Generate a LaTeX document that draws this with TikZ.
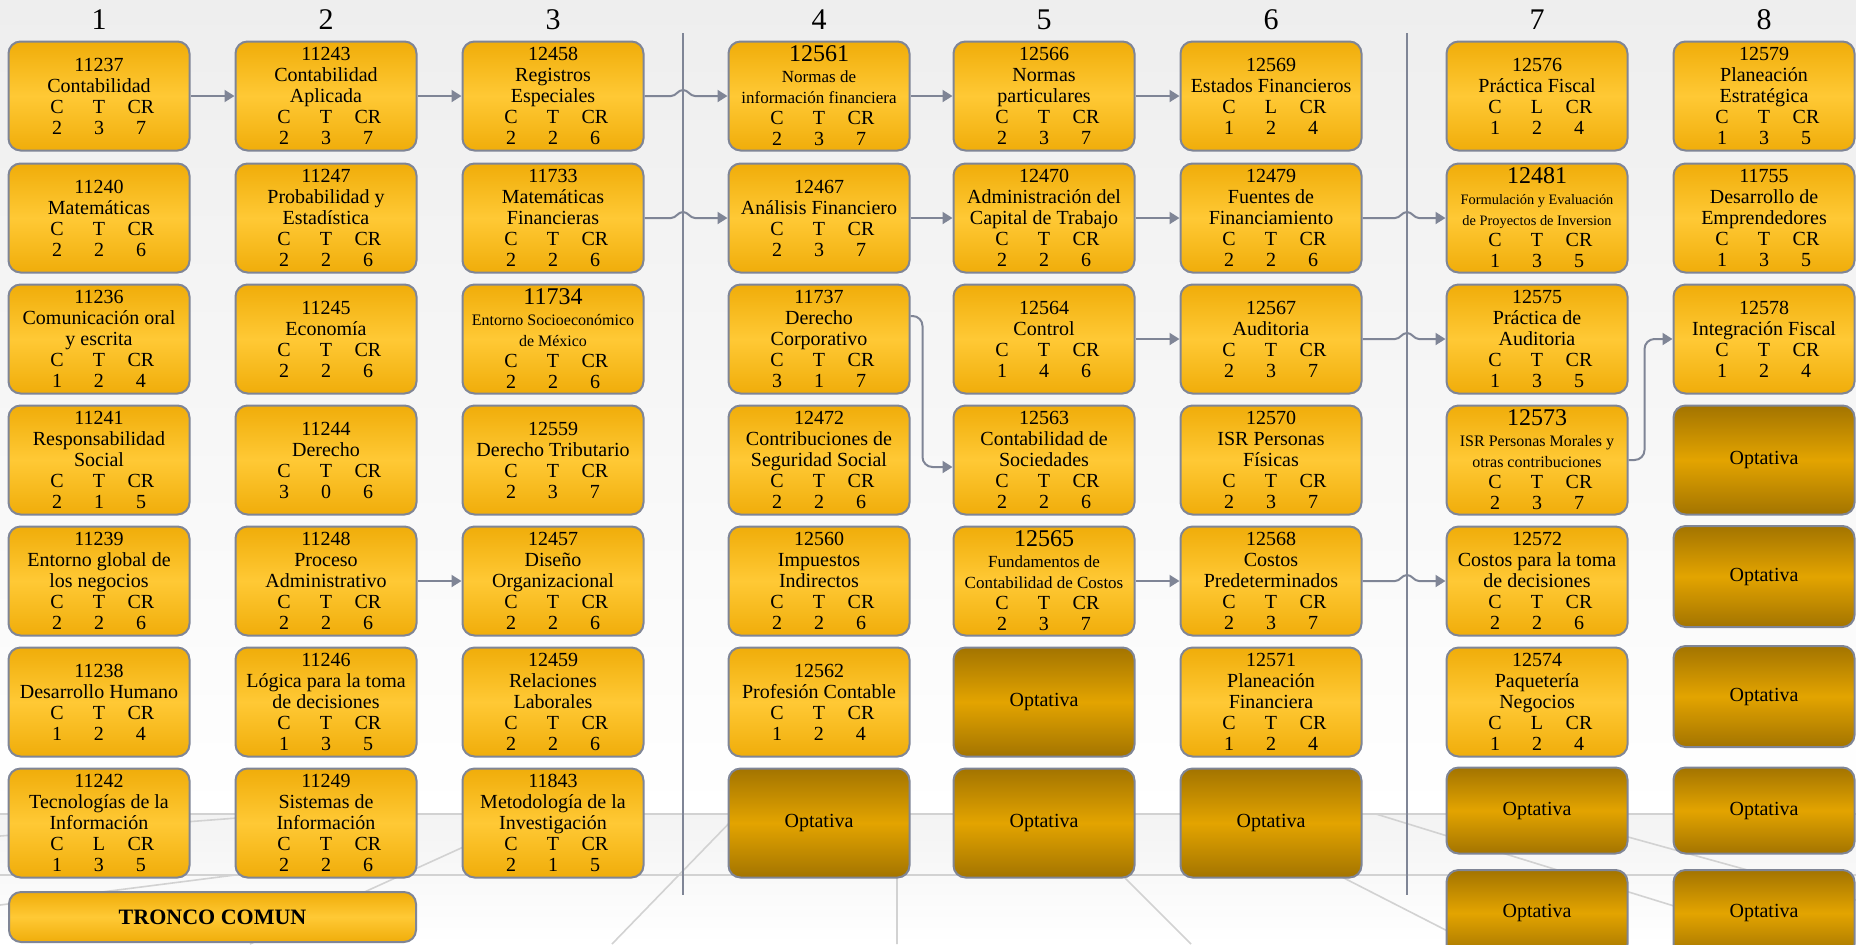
\documentclass[tikz,border=0pt]{standalone}
\usepackage{fontspec}
\setmainfont{Liberation Serif}
\usepackage{tikz}
\usetikzlibrary{arrows.meta}
\usetikzlibrary{positioning}

\definecolor{borde}{HTML}{7F8596}
\definecolor{oroA}{HTML}{F0AD0A}
\definecolor{oroB}{HTML}{FFC935}
\definecolor{ocreA}{HTML}{A37400}
\definecolor{ocreB}{HTML}{E3A400}
\definecolor{fondo}{HTML}{EEEEEE}
\definecolor{piso}{HTML}{D2D2D2}

\newcommand{\hb}[1]{\makebox[21pt]{#1}}
\newcommand{\horas}[6]{\hb{#1}\hb{#2}\hb{#3}\\\hb{#4}\hb{#5}\hb{#6}}
\newcommand{\clave}[1]{{\fontsize{12}{12}\selectfont #1}}
\newcommand{\chico}[1]{{\fontsize{8.5}{9}\selectfont #1}}

\begin{document}
\begin{tikzpicture}[x=0.5pt, y=-0.5pt,
    materia/.style={draw=borde, line width=1pt, rounded corners=6pt,
        top color=oroA, bottom color=oroA, middle color=oroB,
        minimum width=90.5pt, minimum height=54.5pt, inner sep=1pt,
        align=center, font=\fontsize{10}{10.5}\selectfont},
    optativa/.style={materia, top color=ocreA, bottom color=ocreA, middle color=ocreB},
    semestre/.style={font=\fontsize{15}{15}\selectfont, inner sep=0pt},
    flecha/.style={draw=borde, line width=1pt, -{Triangle[length=5pt,width=6pt]}},
    divisor/.style={draw=borde, line width=1pt}]
    \useasboundingbox (0,0) rectangle (1856,944);
    % fondo y piso
    \shade[top color=fondo, bottom color=white] (0,0) rectangle (1856,814);
    \shade[top color=fondo!70, bottom color=white] (0,814) rectangle (1856,944);
    \draw[piso, line width=1pt] (0,814) -- (1856,814) (0,875) -- (1856,875);
    \draw[piso, line width=0.8pt] (738,814) -- (612,944) (897,875) -- (897,944)
        (1122,875) -- (1191,944) (1338,875) -- (1473,944) (536,814) -- (250,944)
        (1376,814) -- (1700,914) (1610,832) -- (1856,900)
        (0,836) -- (290,814) (0,905) -- (235,875);

    % semestres
    \foreach \x [count=\n] in {99,326,553,819,1044,1271,1537,1764}
        \node[semestre] (s\n) at (\x,20) {\n};
    \coordinate (d1) at (683,33);
    \coordinate (d1b) at (683,895);
    \coordinate (d2) at (1407,33);
    \coordinate (d2b) at (1407,895);
    \draw[divisor] (d1) -- (d1b);
    \draw[divisor] (d2) -- (d2b);

    % semestre 1
    \node[materia] (n11237) at (99,96) {11237\\Contabilidad\\\horas{C}{T}{CR}{2}{3}{7}};
    \node[materia] (n11240) at (99,218) {11240\\Matemáticas\\\horas{C}{T}{CR}{2}{2}{6}};
    \node[materia] (n11236) at (99,339) {11236\\Comunicación oral\\y escrita\\\horas{C}{T}{CR}{1}{2}{4}};
    \node[materia] (n11241) at (99,460) {11241\\Responsabilidad\\Social\\\horas{C}{T}{CR}{2}{1}{5}};
    \node[materia] (n11239) at (99,581) {11239\\Entorno global de\\los negocios\\\horas{C}{T}{CR}{2}{2}{6}};
    \node[materia] (n11238) at (99,702) {11238\\Desarrollo Humano\\\horas{C}{T}{CR}{1}{2}{4}};
    \node[materia] (n11242) at (99,823) {11242\\Tecnologías de la\\Información\\\horas{C}{L}{CR}{1}{3}{5}};
    \node[materia, minimum width=203.5pt, minimum height=25pt,
        font=\bfseries\fontsize{11}{11}\selectfont] (tronco) at (212.5,917) {TRONCO COMUN};

    % semestre 2
    \node[materia] (n11243) at (326,96) {11243\\Contabilidad\\Aplicada\\\horas{C}{T}{CR}{2}{3}{7}};
    \node[materia] (n11247) at (326,218) {11247\\Probabilidad y\\Estadística\\\horas{C}{T}{CR}{2}{2}{6}};
    \node[materia] (n11245) at (326,339) {11245\\Economía\\\horas{C}{T}{CR}{2}{2}{6}};
    \node[materia] (n11244) at (326,460) {11244\\Derecho\\\horas{C}{T}{CR}{3}{0}{6}};
    \node[materia] (n11248) at (326,581) {11248\\Proceso\\Administrativo\\\horas{C}{T}{CR}{2}{2}{6}};
    \node[materia] (n11246) at (326,702) {11246\\Lógica para la toma\\de decisiones\\\horas{C}{T}{CR}{1}{3}{5}};
    \node[materia] (n11249) at (326,823) {11249\\Sistemas de\\Información\\\horas{C}{T}{CR}{2}{2}{6}};

    % semestre 3
    \node[materia] (n12458) at (553,96) {12458\\Registros\\Especiales\\\horas{C}{T}{CR}{2}{2}{6}};
    \node[materia] (n11733) at (553,218) {11733\\Matemáticas\\Financieras\\\horas{C}{T}{CR}{2}{2}{6}};
    \node[materia] (n11734) at (553,339) {\clave{11734}\\{\fontsize{8}{9}\selectfont Entorno Socioeconómico}\\{\fontsize{8}{9}\selectfont de México}\\\horas{C}{T}{CR}{2}{2}{6}};
    \node[materia] (n12559) at (553,460) {12559\\Derecho Tributario\\\horas{C}{T}{CR}{2}{3}{7}};
    \node[materia] (n12457) at (553,581) {12457\\Diseño\\Organizacional\\\horas{C}{T}{CR}{2}{2}{6}};
    \node[materia] (n12459) at (553,702) {12459\\Relaciones\\Laborales\\\horas{C}{T}{CR}{2}{2}{6}};
    \node[materia] (n11843) at (553,823) {11843\\Metodología de la\\Investigación\\\horas{C}{T}{CR}{2}{1}{5}};

    % semestre 4
    \node[materia] (n12561) at (819,96) {\clave{12561}\\\chico{Normas de}\\\chico{información financiera}\\\horas{C}{T}{CR}{2}{3}{7}};
    \node[materia] (n12467) at (819,218) {12467\\Análisis Financiero\\\horas{C}{T}{CR}{2}{3}{7}};
    \node[materia] (n11737) at (819,339) {11737\\Derecho\\Corporativo\\\horas{C}{T}{CR}{3}{1}{7}};
    \node[materia] (n12472) at (819,460) {12472\\Contribuciones de\\Seguridad Social\\\horas{C}{T}{CR}{2}{2}{6}};
    \node[materia] (n12560) at (819,581) {12560\\Impuestos\\Indirectos\\\horas{C}{T}{CR}{2}{2}{6}};
    \node[materia] (n12562) at (819,702) {12562\\Profesión Contable\\\horas{C}{T}{CR}{1}{2}{4}};

    % semestre 5
    \node[materia] (n12566) at (1044,96) {12566\\Normas\\particulares\\\horas{C}{T}{CR}{2}{3}{7}};
    \node[materia] (n12470) at (1044,218) {12470\\Administración del\\Capital de Trabajo\\\horas{C}{T}{CR}{2}{2}{6}};
    \node[materia] (n12564) at (1044,339) {12564\\Control\\\horas{C}{T}{CR}{1}{4}{6}};
    \node[materia] (n12563) at (1044,460) {12563\\Contabilidad de\\Sociedades\\\horas{C}{T}{CR}{2}{2}{6}};
    \node[materia] (n12565) at (1044,581) {\clave{12565}\\\chico{Fundamentos de}\\\chico{Contabilidad de Costos}\\\horas{C}{T}{CR}{2}{3}{7}};

    % semestre 6
    \node[materia] (n12569) at (1271,96) {12569\\Estados Financieros\\\horas{C}{L}{CR}{1}{2}{4}};
    \node[materia] (n12479) at (1271,218) {12479\\Fuentes de\\Financiamiento\\\horas{C}{T}{CR}{2}{2}{6}};
    \node[materia] (n12567) at (1271,339) {12567\\Auditoria\\\horas{C}{T}{CR}{2}{3}{7}};
    \node[materia] (n12570) at (1271,460) {12570\\ISR Personas\\Físicas\\\horas{C}{T}{CR}{2}{3}{7}};
    \node[materia] (n12568) at (1271,581) {12568\\Costos\\Predeterminados\\\horas{C}{T}{CR}{2}{3}{7}};
    \node[materia] (n12571) at (1271,702) {12571\\Planeación\\Financiera\\\horas{C}{T}{CR}{1}{2}{4}};

    % semestre 7
    \node[materia] (n12576) at (1537,96) {12576\\Práctica Fiscal\\\horas{C}{L}{CR}{1}{2}{4}};
    \node[materia] (n12481) at (1537,218) {\clave{12481}\\{\fontsize{7.2}{8.5}\selectfont Formulación y Evaluación}\\{\fontsize{7.2}{8.5}\selectfont de Proyectos de Inversion}\\\horas{C}{T}{CR}{1}{3}{5}};
    \node[materia] (n12575) at (1537,339) {12575\\Práctica de\\Auditoria\\\horas{C}{T}{CR}{1}{3}{5}};
    \node[materia] (n12573) at (1537,460) {\clave{12573}\\{\fontsize{8}{9.5}\selectfont ISR Personas Morales y}\\{\fontsize{8}{9.5}\selectfont otras contribuciones}\\\horas{C}{T}{CR}{2}{3}{7}};
    \node[materia] (n12572) at (1537,581) {12572\\Costos para la toma\\de decisiones\\\horas{C}{T}{CR}{2}{2}{6}};
    \node[materia] (n12574) at (1537,702) {12574\\Paquetería\\Negocios\\\horas{C}{L}{CR}{1}{2}{4}};

    % semestre 8
    \node[materia] (n12579) at (1764,96) {12579\\Planeación\\Estratégica\\\horas{C}{T}{CR}{1}{3}{5}};
    \node[materia] (n11755) at (1764,218) {11755\\Desarrollo de\\Emprendedores\\\horas{C}{T}{CR}{1}{3}{5}};
    \node[materia] (n12578) at (1764,339) {12578\\Integración Fiscal\\\horas{C}{T}{CR}{1}{2}{4}};

    % optativas
    \foreach \x/\y/\h [count=\i] in {819/823/109, 1044/702/109, 1044/823/109,
        1271/823/109, 1537/810.5/86, 1537/913/86, 1764/460/109, 1764/576.5/101,
        1764/696.5/101, 1764/810.5/86, 1764/913/86}
        \node[optativa, minimum height=\h*0.5pt] (op\i) at (\x,\y) {Optativa};

    % seriaciones
    \draw[flecha] (n11237) -- (n11243);
    \draw[flecha] (n11243) -- (n12458);
    \draw[flecha] (n11248) -- (n12457);
    \draw[flecha] (n12561) -- (n12566);
    \draw[flecha] (n12566) -- (n12569);
    \draw[flecha] (n12467) -- (n12470);
    \draw[flecha] (n12470) -- (n12479);
    \draw[flecha] (n12564) -- (n12567);
    \draw[flecha] (n12565) -- (n12568);
    \draw[flecha] (n12458.east) -- ([xshift=-6pt]d1 |- n12458.east) to[out=0,in=180]
        ([yshift=3pt]d1 |- n12458.east) to[out=0,in=180] ([xshift=6pt]d1 |- n12458.east) -- (n12561.west);
    \draw[flecha] (n11733.east) -- ([xshift=-6pt]d1 |- n11733.east) to[out=0,in=180]
        ([yshift=3pt]d1 |- n11733.east) to[out=0,in=180] ([xshift=6pt]d1 |- n11733.east) -- (n12467.west);
    \draw[flecha] (n12479.east) -- ([xshift=-6pt]d2 |- n12479.east) to[out=0,in=180]
        ([yshift=3pt]d2 |- n12479.east) to[out=0,in=180] ([xshift=6pt]d2 |- n12479.east) -- (n12481.west);
    \draw[flecha] (n12567.east) -- ([xshift=-6pt]d2 |- n12567.east) to[out=0,in=180]
        ([yshift=3pt]d2 |- n12567.east) to[out=0,in=180] ([xshift=6pt]d2 |- n12567.east) -- (n12575.west);
    \draw[flecha] (n12568.east) -- ([xshift=-6pt]d2 |- n12568.east) to[out=0,in=180]
        ([yshift=3pt]d2 |- n12568.east) to[out=0,in=180] ([xshift=6pt]d2 |- n12568.east) -- (n12572.west);
    \draw[flecha, rounded corners=5pt] ([yshift=11.5pt]n11737.east) -- ++(6pt,0) |- ([yshift=-3.5pt]n12563.west);
    \draw[flecha, rounded corners=5pt] (n12573.east) -- ++(8pt,0) |- (n12578.west);
\end{tikzpicture}
\end{document}
